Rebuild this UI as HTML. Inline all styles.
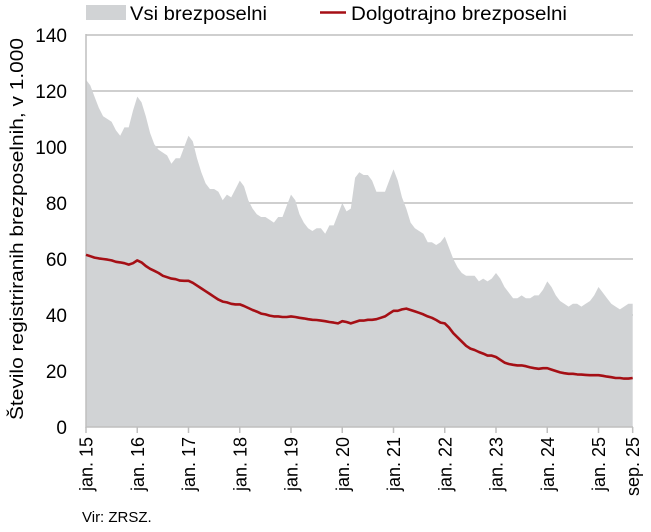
<!DOCTYPE html>
<html><head><meta charset="utf-8">
<style>
html,body{margin:0;padding:0;background:#fff;}
svg{display:block;font-family:"Liberation Sans",Arial,sans-serif;}
</style></head>
<body>
<svg id="c" width="651" height="532" viewBox="0 0 651 532" xmlns="http://www.w3.org/2000/svg">
<g id="grid"></g>
<path id="area" fill="#d1d3d5" stroke="none"/>
<g id="grid2"></g>
<line x1="86" y1="34" x2="86" y2="428" stroke="#bfbfbf" stroke-width="1.5"/>
<path id="red" fill="none" stroke="#a50f15" stroke-width="2.6" stroke-linejoin="round"/>
<g id="ylab" font-size="19" fill="#000" text-anchor="end"></g>
<g id="xlab" font-size="18" fill="#000"></g>
<text transform="translate(23,229) rotate(-90)" font-size="18" text-anchor="middle" textLength="382" lengthAdjust="spacingAndGlyphs">Število registriranih brezposelnih, v 1.000</text>
<rect x="86" y="5" width="40" height="15" fill="#d1d3d5"/>
<text x="130" y="20" font-size="19" textLength="137" lengthAdjust="spacingAndGlyphs">Vsi brezposelni</text>
<line x1="320" y1="12.5" x2="346" y2="12.5" stroke="#a50f15" stroke-width="2.6"/>
<text x="351" y="20" font-size="19" textLength="216" lengthAdjust="spacingAndGlyphs">Dolgotrajno brezposelni</text>
<text x="82" y="522" font-size="15">Vir: ZRSZ.</text>
</svg>
<script>
var grey=[124,122,118,114,111,110,109,106,104,107,107,113,
118,116,111,105,101,99,98,97,94,96,96,100,
104,102,96,91,87,85,85,84,81,83,82,85,
88,86,81,78,76,75,75,74,73,75,75,79,
83,81,76,73,71,70,71,71,69,72,72,76,
80,77,78,89,91,90,90,88,84,84,84,88,
92,88,82,78,73,71,70,69,66,66,65,66,
68,64,60,57,55,54,54,54,52,53,52,53,
55,53,50,48,46,46,47,46,46,47,47,49,
52,50,47,45,44,43,44,44,43,44,45,47,
50,48,46,44,43,42,43,44,44];
var red=[61.5,61,60.5,60.2,60,59.8,59.5,59,58.8,58.5,58,58.5,
59.5,58.8,57.5,56.5,55.8,55,54,53.5,53,52.8,52.3,52.2,
52.2,51.5,50.5,49.5,48.5,47.5,46.5,45.5,44.8,44.5,44,43.8,
43.8,43.2,42.5,41.8,41.2,40.5,40.2,39.8,39.5,39.5,39.3,39.3,
39.5,39.3,39,38.8,38.5,38.3,38.2,38,37.8,37.5,37.3,37,
37.8,37.5,37,37.5,38,38,38.3,38.3,38.5,39,39.5,40.5,
41.5,41.5,42,42.3,41.8,41.3,40.8,40.2,39.5,39,38.2,37.3,
37,35.5,33.5,32,30.5,29,28,27.5,26.8,26.2,25.5,25.5,
25,24,23,22.5,22.2,22,22,21.7,21.3,21,20.8,21,
21,20.5,20,19.5,19.2,19,19,18.8,18.7,18.6,18.5,18.5,
18.5,18.3,18,17.8,17.5,17.5,17.3,17.3,17.5];
var x0=86,mw=51.25/12,y0=427,yk=392/140;
function X(i){return x0+i*mw;}function Y(v){return y0-v*yk;}
var d="M"+X(0)+","+y0;grey.forEach(function(v,i){d+="L"+X(i).toFixed(1)+","+Y(v).toFixed(1);});
d+="L"+X(grey.length-1).toFixed(1)+","+y0+"Z";
document.getElementById('area').setAttribute('d',d);
var r="";red.forEach(function(v,i){r+=(i?"L":"M")+X(i).toFixed(1)+","+Y(v).toFixed(1);});
document.getElementById('red').setAttribute('d',r);
var ns="http://www.w3.org/2000/svg",g=document.getElementById('grid'),yl=document.getElementById('ylab'),xl=document.getElementById('xlab');
for(var v=0;v<=140;v+=20){var l=document.createElementNS(ns,'line');l.setAttribute('x1',86);l.setAttribute('x2',633);l.setAttribute('y1',Y(v));l.setAttribute('y2',Y(v));l.setAttribute('stroke','#bfbfbf');l.setAttribute('stroke-width','1.5');(v==0?document.getElementById('grid2'):g).appendChild(l);
var t=document.createElementNS(ns,'text');t.setAttribute('x',67);t.setAttribute('y',Y(v)+7);t.textContent=v;yl.appendChild(t);}
var labs=[];for(var k=0;k<=10;k++)labs.push([k*12,"jan. "+(15+k)]);labs.push([128,"sep. 25"]);
labs.forEach(function(a){var x=X(a[0]);var l=document.createElementNS(ns,'line');l.setAttribute('x1',x);l.setAttribute('x2',x);l.setAttribute('y1',427);l.setAttribute('y2',433);l.setAttribute('stroke','#bfbfbf');l.setAttribute('stroke-width','1.5');xl.appendChild(l);
var t=document.createElementNS(ns,'text');t.setAttribute('transform','translate('+(x+6.5)+',437) rotate(-90)');t.setAttribute('text-anchor','end');t.textContent=a[1];xl.appendChild(t);});
</script>
</body></html>
